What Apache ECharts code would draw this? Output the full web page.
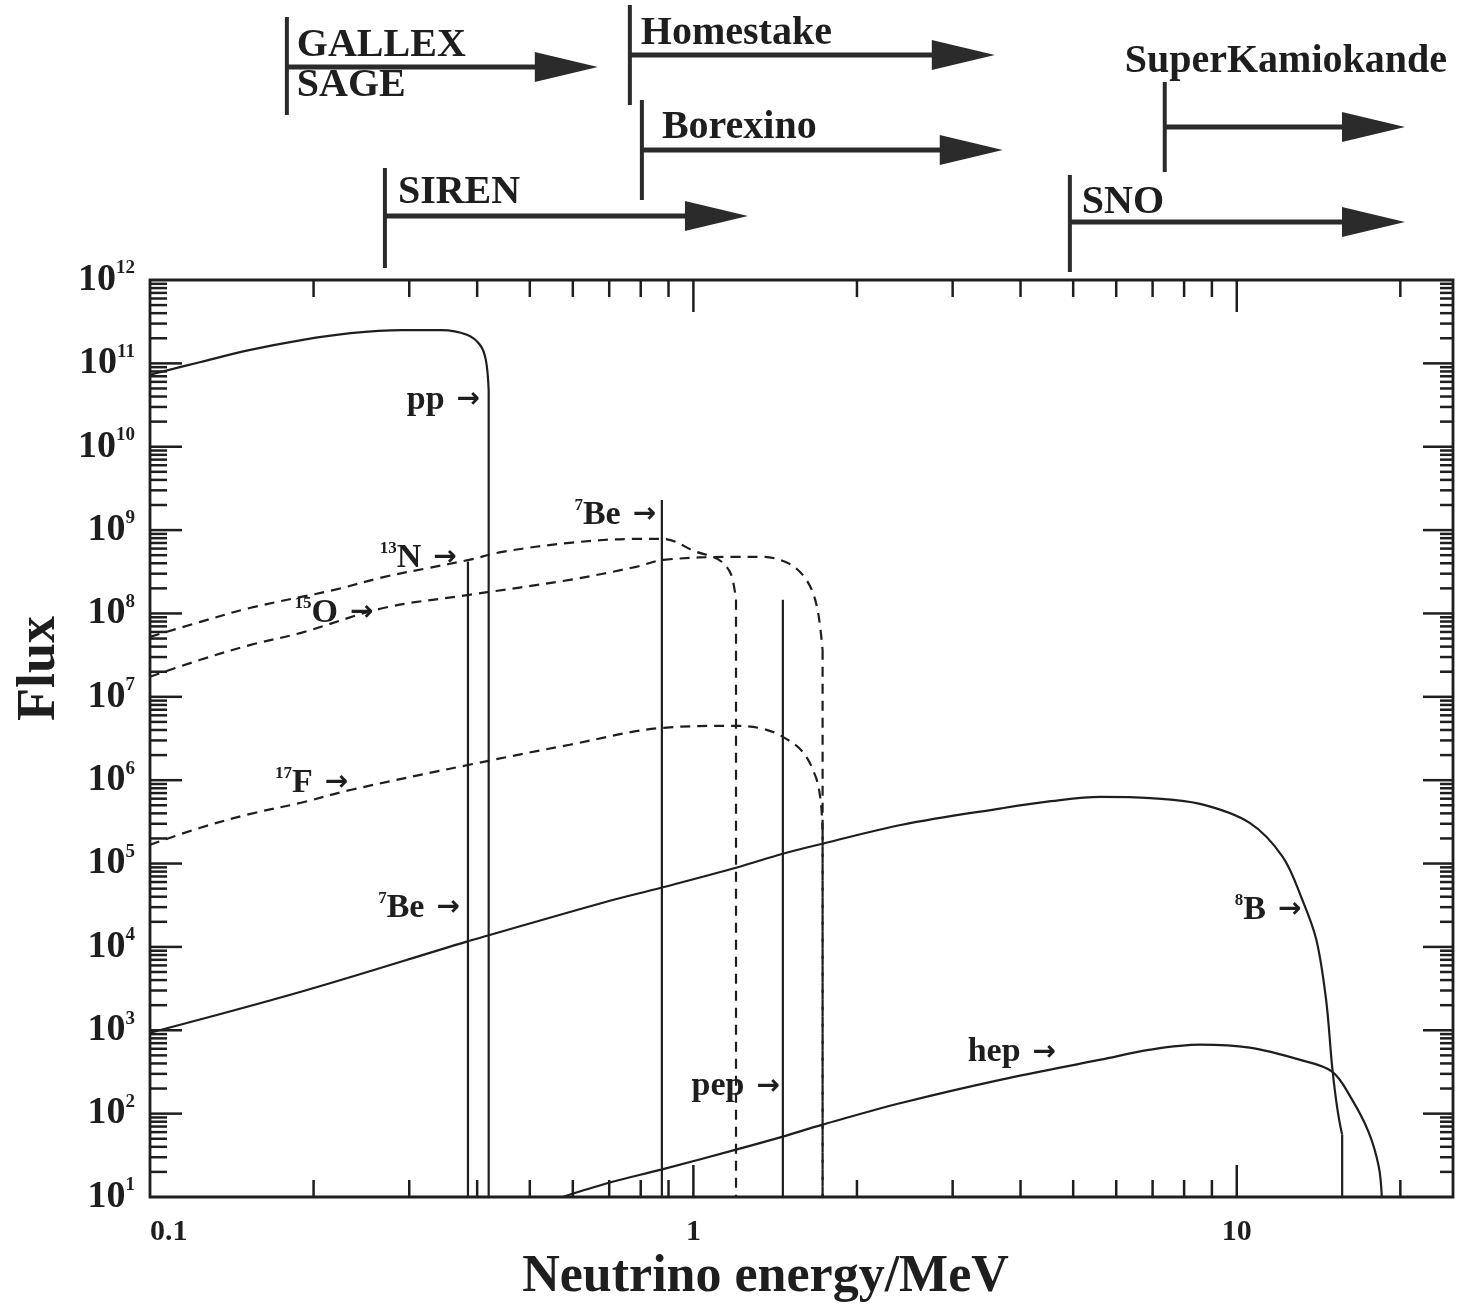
<!DOCTYPE html>
<html><head><meta charset="utf-8">
<script src="https://cdn.jsdelivr.net/npm/echarts@6/dist/echarts.min.js"></script>
<style>html,body{margin:0;padding:0;background:#fff}#c{width:1460px;height:1311px}</style>
</head><body><div id="c"></div>
<script>
// ---------- data (energy in MeV, flux) ----------
const ppCurve = [[0.1,7.3e10],[0.124,1.04e11],[0.153,1.45e11],[0.19,1.9e11],[0.234,2.3e11],[0.29,2.5e11],[0.344,2.5e11],[0.383,2.2e11],[0.405,1.66e11],[0.415,1.1e11],[0.42,4.8e10],[0.42,10]];
const n13Curve = [[0.1,5.24e7],[0.1238,7.93e7],[0.1532,1.17e8],[0.2183,1.92e8],[0.2701,2.75e8],[0.3258,3.52e8],[0.3864,4.39e8],[0.4449,5.48e8],[0.5918,7.03e8],[0.7843,7.84e8],[0.8799,7.84e8],[1.0127,5.48e8],[1.088,4.77e8],[1.134,4.04e8],[1.174,2.9e8],[1.198,1.46e8],[1.198,10]];
const o15Curve = [[0.1,1.74e7],[0.1238,2.78e7],[0.1532,4.2e7],[0.1896,5.85e7],[0.2701,1.17e8],[0.3864,1.67e8],[0.5918,2.53e8],[0.7843,3.62e8],[0.8799,4.39e8],[1.198,4.77e8],[1.343,4.77e8],[1.492,4.04e8],[1.589,2.9e8],[1.657,1.82e8],[1.699,9.6e7],[1.729,3.66e7],[1.729,10]];
const f17Curve = [[0.1,1.68e5],[0.1238,2.69e5],[0.1532,3.95e5],[0.1896,5.36e5],[0.2346,7.67e5],[0.3864,1.53e6],[0.5918,2.66e6],[0.8799,4.25e6],[1.198,4.49e6],[1.343,4.13e6],[1.461,3.31e6],[1.589,2.19e6],[1.679,1.1e6],[1.714,5.82e5],[1.729,2.54e5],[1.729,10]];
const b8Curve = [[0.1,935],[0.1896,2.9e3],[0.3815,1.15e4],[0.4173,1.36e4],[0.6813,3.39e4],[0.8724,5.13e4],[1.198,8.9e4],[1.461,1.31e5],[1.729,1.73e5],[2.421,2.92e5],[3.688,4.6e5],[4.55,5.6e5],[5.617,6.3e5],[6.934,6.1e5],[8.557,5.2e5],[10.56,3.08e5],[12.14,1.21e5],[13.2,3.68e4],[14.01,1.22e4],[14.6,2.33e3],[14.98,366],[15.23,147],[15.43,84.7],[15.63,56],[15.63,10]];
const hepCurve = [[0.5743,10],[0.7018,14.9],[0.8724,21.3],[1.198,37],[1.461,53],[1.729,73.8],[2.421,135],[3.688,256],[5.617,444],[6.934,585],[8.557,671],[10.56,618],[13.04,444],[14.98,319],[16.3,147],[17.5,59.2],[18.25,23.2],[18.49,10]];
const be7LineLow = [[0.3847,4.2e8],[0.3847,10]];
const be7LineHigh = [[0.875,2.3e9],[0.875,10]];
const pepLine = [[1.461,1.46e8],[1.461,10]];

// in-plot labels: [energy, flux] of arrow tip
const labelPoints = [[0.405,3.64e10],[0.854,1.52e9],[0.367,4.64e8],[0.2577,1.02e8],[0.2316,9.3e5],[0.3718,2.95e4],[1.443,211],[4.65,538],[13.15,2.79e4]];
const labelNames = ['pp','Be','N','O','F','Be','pep','hep','B'];
const labelSups  = ['','7','13','15','17','7','','','8'];

// detectors: threshold energy and arrow end energy
const detectorNames = ['GALLEX','Homestake','Borexino','SIREN','SNO','SuperKamiokande'];
const detectorSub   = ['SAGE','','','','',''];
const detectorStart = [0.1786,0.764,0.804,0.2706,4.93,7.37];
const detectorEnd   = [0.667,3.587,3.71,1.26,20.4,20.4];

// axis tick labels
const xTickLabels = {'-1':'0.1','0':'1','1':'10'};

// ---------- layout / style ----------
const INK = '#1e1e1e';
const detectorLayout = [
  {barTop:17, barBottom:115, arrowY:67, tx:10, ty:46, subY:86},
  {barTop:5, barBottom:105, arrowY:55, tx:11, ty:34},
  {barTop:100, barBottom:200, arrowY:150, tx:20, ty:128},
  {barTop:168, barBottom:268, arrowY:216, tx:13, ty:193},
  {barTop:175, barBottom:272, arrowY:222, tx:12, ty:203},
  {barTop:82, barBottom:172, arrowY:127, tx:-40, ty:62}
];

function isPow10(v){const l=Math.log10(v);return Math.abs(l-Math.round(l))<1e-6;}
const xMinorTicks=[], yMinorTicks=[];
for(let d=-1; d<=1; d++) for(let m=1; m<=9; m++){const v=m*Math.pow(10,d); if(v>0.1 && v<25) xMinorTicks.push([v,10]);}
for(let d=1; d<=11; d++) for(let m=1; m<=9; m++){const v=m*Math.pow(10,d); if(v>10 && v<1e12) yMinorTicks.push([0.1,v]);}

function lineSeries(data, dashed, smooth){
  return {type:'line', data:data, symbol:'none', showSymbol:false, silent:true, z:3, smooth:smooth||false,
    lineStyle:{color:INK, width:2.2, type: dashed ? [10,7] : 'solid'}};
}
// a curve = smooth body + straight vertical drop at its end point (if any)
function curveSeries(data, dashed){
  const n=data.length;
  if(n>2 && data[n-1][0]===data[n-2][0]){
    return [lineSeries(data.slice(0,n-1), dashed, 0.35), lineSeries(data.slice(n-2), dashed, false)];
  }
  return [lineSeries(data, dashed, 0.35)];
}

const labelRich = {
  t:{fontFamily:'Liberation Serif', fontWeight:'bold', fontSize:34, fill:INK, lineHeight:36},
  s:{fontFamily:'Liberation Serif', fontWeight:'bold', fontSize:17, fill:INK, verticalAlign:'top', lineHeight:17},
  a:{fontFamily:'DejaVu Sans', fontWeight:'bold', fontSize:28, fill:INK, padding:[0,0,0,12], lineHeight:36}
};

const chart = echarts.init(document.getElementById('c'), null, {renderer:'canvas'});
chart.setOption({
  backgroundColor:'#ffffff',
  animation:false,
  grid:{left:150, right:7, top:280, bottom:114, show:true, borderColor:INK, borderWidth:2.8, backgroundColor:'transparent', outerBoundsMode:'none', containLabel:false},
  xAxis:{type:'log', logBase:10, min:0.1, max:25, interval:1, splitNumber:3,
    axisLine:{show:false}, axisTick:{show:false}, splitLine:{show:false}, minorTick:{show:false},
    axisLabel:{interval:0, margin:20, alignMinLabel:'left', color:INK, fontFamily:'Liberation Serif', fontWeight:'bold', fontSize:30,
      formatter:function(v){ if(!isPow10(v)) return ''; const e=Math.round(Math.log10(v)); return xTickLabels[String(e)]||''; }},
    name:'Neutrino energy/MeV', nameLocation:'middle', nameGap:46,
    nameTextStyle:{fontFamily:'Liberation Serif', fontWeight:'bold', fontSize:52, color:INK, padding:[0,72,0,0]}
  },
  yAxis:{type:'log', logBase:10, min:10, max:1e12, interval:1, splitNumber:11,
    axisLine:{show:false}, axisTick:{show:false}, splitLine:{show:false}, minorTick:{show:false},
    axisLabel:{interval:0, margin:15, color:INK,
      formatter:function(v){ if(!isPow10(v)) return ''; return '{b|10}{s|'+Math.round(Math.log10(v))+'}'; },
      rich:{b:{fontFamily:'Liberation Serif', fontWeight:'bold', fontSize:38, color:INK, lineHeight:42},
            s:{fontFamily:'Liberation Serif', fontWeight:'bold', fontSize:19, color:INK, verticalAlign:'top', lineHeight:19}}},
    name:'Flux', nameLocation:'middle', nameGap:58, nameRotate:90,
    nameTextStyle:{fontFamily:'Liberation Serif', fontWeight:'bold', fontSize:54, color:INK, padding:[0,0,0,140]}
  },
  series:[].concat(
    curveSeries(ppCurve,false),
    curveSeries(n13Curve,true),
    curveSeries(o15Curve,true),
    curveSeries(f17Curve,true),
    curveSeries(b8Curve,false),
    curveSeries(hepCurve,false),
    [lineSeries(be7LineLow,false), lineSeries(be7LineHigh,false), lineSeries(pepLine,false),
    // ticks along x (bottom and top)
    {type:'custom', data:xMinorTicks, silent:true, z:4,
      renderItem:function(params, api){
        const cs=params.coordSys; const v=api.value(0);
        const x=api.coord([v,10])[0]; const len=isPow10(v)?32:17;
        const yb=cs.y+cs.height, yt=cs.y;
        return {type:'group', children:[
          {type:'line', shape:{x1:x,y1:yb,x2:x,y2:yb-len}, style:{stroke:INK,lineWidth:2.5}},
          {type:'line', shape:{x1:x,y1:yt,x2:x,y2:yt+len}, style:{stroke:INK,lineWidth:2.5}}
        ]};
      }},
    // ticks along y (left and right)
    {type:'custom', data:yMinorTicks, silent:true, z:4,
      renderItem:function(params, api){
        const cs=params.coordSys; const v=api.value(1);
        const y=api.coord([0.1,v])[1]; const maj=isPow10(v);
        const xl=cs.x, xr=cs.x+cs.width;
        return {type:'group', children:[
          {type:'line', shape:{x1:xl,y1:y,x2:xl+(maj?32:17),y2:y}, style:{stroke:INK,lineWidth:2.5}},
          {type:'line', shape:{x1:xr,y1:y,x2:xr-(maj?30:13),y2:y}, style:{stroke:INK,lineWidth:2.5}}
        ]};
      }},
    // in-plot labels (arrow tip at the data point)
    {type:'custom', data:labelPoints, silent:true, z:5, clip:false,
      renderItem:function(params, api){
        const i=params.dataIndex;
        const p=api.coord([api.value(0),api.value(1)]);
        const txt=(labelSups[i]?'{s|'+labelSups[i]+'}':'')+'{t|'+labelNames[i]+'}{a|→}';
        return {type:'text', x:p[0], y:p[1], style:{text:txt, rich:labelRich, fill:INK, align:'right', verticalAlign:'middle'}};
      }},
    // detector thresholds above the plot
    {type:'custom', silent:true, z:6, clip:false,
      data:detectorStart.map(function(e,i){return [e,1e12,detectorEnd[i]];}),
      encode:{x:0,y:1},
      renderItem:function(params, api){
        const i=params.dataIndex; const L=detectorLayout[i];
        const x0=api.coord([api.value(0),1e12])[0];
        const x1=api.coord([api.value(2),1e12])[0];
        const font='bold 40px "Liberation Serif"';
        const ch=[
          {type:'line', shape:{x1:x0,y1:L.barTop,x2:x0,y2:L.barBottom}, style:{stroke:'#2b2b2b',lineWidth:4}},
          {type:'line', shape:{x1:x0,y1:L.arrowY,x2:x1-55,y2:L.arrowY}, style:{stroke:'#2b2b2b',lineWidth:5}},
          {type:'polygon', shape:{points:[[x1-63,L.arrowY-15],[x1,L.arrowY],[x1-63,L.arrowY+15]]}, style:{fill:'#2b2b2b'}},
          {type:'text', x:x0+L.tx, y:L.ty, style:{text:detectorNames[i], font:font, fill:INK, align:'left', verticalAlign:'middle'}}
        ];
        if(detectorSub[i]) ch.push({type:'text', x:x0+L.tx, y:L.subY, style:{text:detectorSub[i], font:font, fill:INK, align:'left', verticalAlign:'middle'}});
        return {type:'group', children:ch};
      }}]
  )
});
</script></body></html>
